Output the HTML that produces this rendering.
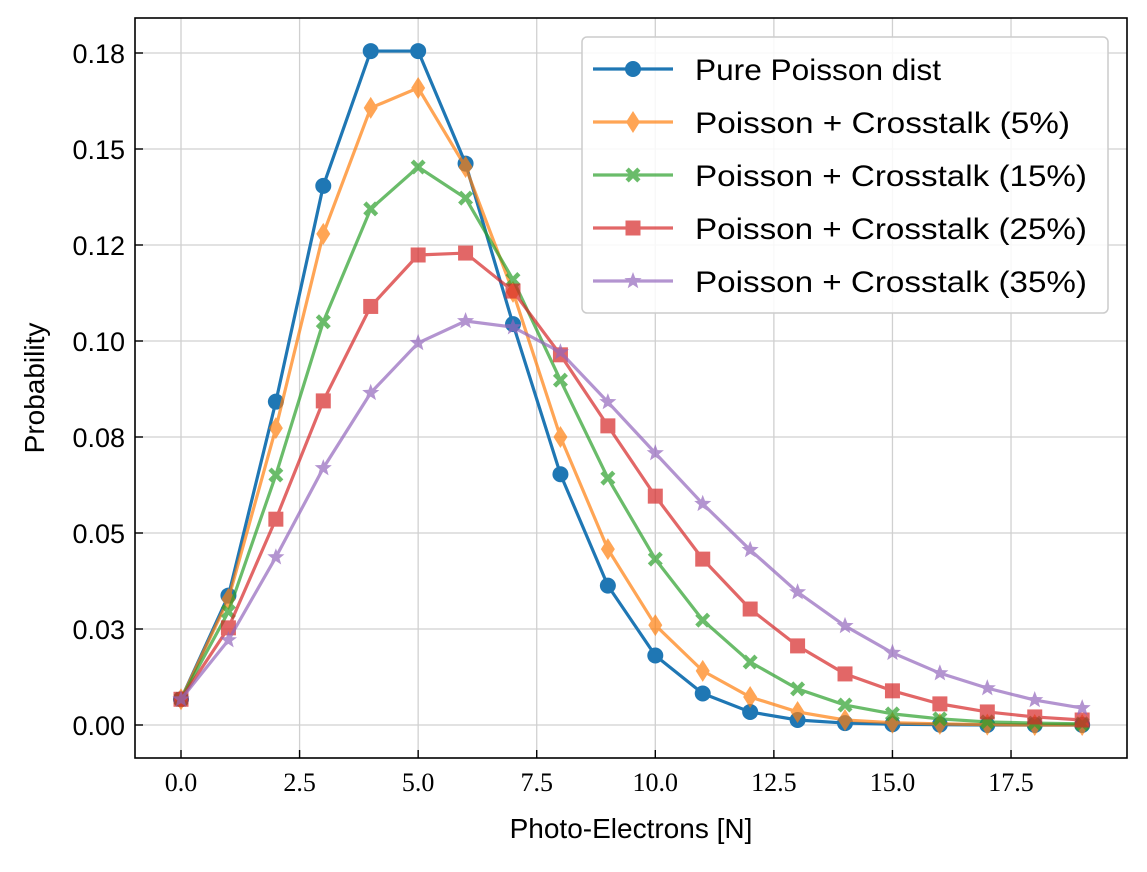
<!DOCTYPE html>
<html><head><meta charset="utf-8"><style>
body{margin:0;background:#fff}
svg text{fill:#000}
</style></head><body>
<svg id="chart" width="1147" height="867" xmlns="http://www.w3.org/2000/svg">
<g id="grid"></g>
<g id="series"></g>
<rect x="135" y="18" width="992" height="740" fill="none" stroke="#000" stroke-width="1.6"/>
<g id="ticks"></g>
<text x="631" y="838" font-size="28" text-anchor="middle" style="font-family:'Liberation Sans',sans-serif">Photo-Electrons [N]</text>
<text transform="translate(44,388) rotate(-90)" font-size="28" text-anchor="middle" style="font-family:'Liberation Sans',sans-serif">Probability</text>
<g id="legend"></g>
</svg>
<script>
const categories=[0,1,2,3,4,5,6,7,8,9,10,11,12,13,14,15,16,17,18,19];
const pure=[0.0067,0.0337,0.0842,0.1404,0.1755,0.1755,0.1462,0.1044,0.0653,0.0363,0.0181,0.0082,0.0034,0.0013,0.0005,0.0002,0.0001,0,0,0];
const ct5=[0.0067,0.0328,0.0773,0.1279,0.1607,0.1659,0.1453,0.1128,0.075,0.0458,0.026,0.0141,0.0073,0.0034,0.0013,0.0006,0.0003,0.0001,0,0];
const ct15=[0.0067,0.0295,0.0651,0.105,0.1344,0.1453,0.1372,0.116,0.0898,0.0643,0.0432,0.0273,0.0164,0.0094,0.0052,0.0029,0.0016,0.0008,0.0005,0.0003];
const ct25=[0.0067,0.0253,0.0536,0.0844,0.109,0.1224,0.1229,0.113,0.0964,0.0779,0.0596,0.0432,0.0302,0.0206,0.0133,0.0089,0.0055,0.0034,0.0021,0.0013];
const ct35=[0.0067,0.0221,0.0437,0.0669,0.0865,0.0995,0.1052,0.1036,0.0971,0.0841,0.0708,0.0576,0.0456,0.0346,0.0258,0.0188,0.0135,0.0096,0.0065,0.0044];
const xTicks=[0,2.5,5,7.5,10,12.5,15,17.5];
const xTickLabels=["0.0","2.5","5.0","7.5","10.0","12.5","15.0","17.5"];
const yTicks=[0,0.025,0.05,0.075,0.1,0.125,0.15,0.175];
const yTickLabels=["0.00","0.03","0.05","0.08","0.10","0.12","0.15","0.18"];
const legendLabels=["Pure Poisson dist","Poisson + Crosstalk (5%)","Poisson + Crosstalk (15%)","Poisson + Crosstalk (25%)","Poisson + Crosstalk (35%)"];

const NS="http://www.w3.org/2000/svg";
const X=v=>181+v*47.43, Y=v=>725-v*3840;
function mk(tag,attrs,parent){const e=document.createElementNS(NS,tag);for(const k in attrs)e.setAttribute(k,attrs[k]);parent.appendChild(e);return e;}
const grid=document.getElementById('grid'),ticks=document.getElementById('ticks'),ser=document.getElementById('series'),leg=document.getElementById('legend');
xTicks.forEach((t,i)=>{
 const g=mk('line',{x1:X(t),x2:X(t),y1:18,y2:758,stroke:'#d0d0d0','stroke-width':1.3},grid);
 
 const tk=mk('line',{x1:X(t),x2:X(t),y1:758,y2:750,stroke:'#000','stroke-width':1.4},ticks);
 
 const tx=mk('text',{x:X(t),y:791,'font-size':26,'text-anchor':'middle',style:"font-family:'Liberation Serif',serif"},ticks);
 
 tx.textContent=xTickLabels[i];
});
yTicks.forEach((t,i)=>{
 const g=mk('line',{x1:135,x2:1127,y1:Y(t),y2:Y(t),stroke:'#d0d0d0','stroke-width':1.3},grid);
 
 const tk=mk('line',{x1:135,x2:143,y1:Y(t),y2:Y(t),stroke:'#000','stroke-width':1.4},ticks);
 
 const tx=mk('text',{x:125,y:Y(t)+10,'font-size':27,'text-anchor':'end',style:"font-family:'Liberation Sans',sans-serif"},ticks);
 
 tx.textContent=yTickLabels[i];
});
const colors=['#1f77b4','#ff7f0e','#2ca02c','#d62728','#9467bd'];
const alphas=[1,0.7,0.7,0.7,0.7];
const markers=['circle','diamond','x','square','star'];
function marker(type,cx,cy,col,parent){
 let e;
 if(type==='circle')e=mk('circle',{cx,cy,r:8,fill:col},parent);
 else if(type==='diamond')e=mk('polygon',{points:`${cx},${cy-11} ${cx+7},${cy} ${cx},${cy+11} ${cx-7},${cy}`,fill:col},parent);
 else if(type==='square')e=mk('rect',{x:cx-7.5,y:cy-7.5,width:15,height:15,fill:col},parent);
 else if(type==='x'){const s=7.5,w=3.2;e=mk('path',{d:`M${cx-s},${cy-s+w}L${cx-s+w},${cy-s}L${cx},${cy-w}L${cx+s-w},${cy-s}L${cx+s},${cy-s+w}L${cx+w},${cy}L${cx+s},${cy+s-w}L${cx+s-w},${cy+s}L${cx},${cy+w}L${cx-s+w},${cy+s}L${cx-s},${cy+s-w}L${cx-w},${cy}Z`,fill:col},parent);}
 else {let p=[];for(let k=0;k<10;k++){const r=k%2?3.8:9,a=-Math.PI/2+k*Math.PI/5;p.push((cx+r*Math.cos(a)).toFixed(1)+','+(cy+r*Math.sin(a)).toFixed(1));}e=mk('polygon',{points:p.join(' '),fill:col},parent);}
 return e;
}
[pure,ct5,ct15,ct25,ct35].forEach((d,s)=>{
 const g=mk('g',{opacity:alphas[s]},ser);
 
 const l=mk('polyline',{points:d.map((v,i)=>X(categories[i])+','+Y(v)).join(' '),fill:'none',stroke:colors[s],'stroke-width':3.2},g);
 
 d.forEach((v,i)=>{const m=marker(markers[s],X(categories[i]),Y(v),colors[s],g);
  });
});
const box=mk('rect',{x:582,y:37,width:526,height:276,rx:5,fill:'#fff','fill-opacity':0.85,stroke:'#ccc','stroke-width':1.5},leg);

legendLabels.forEach((lab,s)=>{
 const y=69+s*53;
 const g=mk('g',{opacity:alphas[s]},leg);
 
 mk('line',{x1:593,x2:673,y1:y,y2:y,stroke:colors[s],'stroke-width':3.2},g);
 marker(markers[s],633,y,colors[s],g);
 const t=mk('text',{x:695,y:y+11,'font-size':30,textLength:(s===0?246:(s===2?392:(s===1?375:392))),lengthAdjust:'spacingAndGlyphs',style:"font-family:'Liberation Sans',sans-serif"},leg);
 
 t.textContent=lab;
});
</script>
</body></html>
